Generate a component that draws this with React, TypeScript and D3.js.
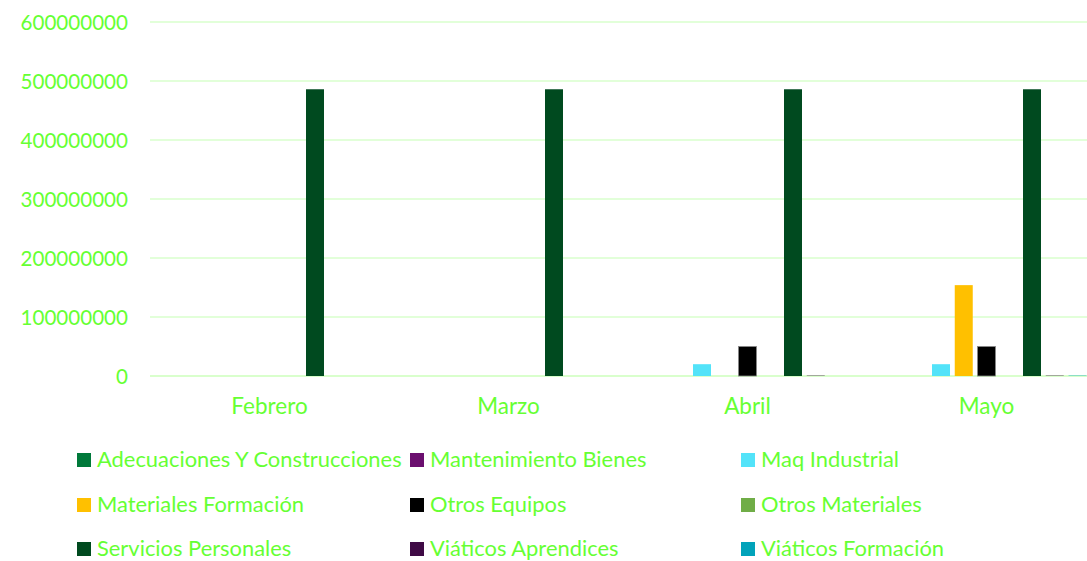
import React from "react";
import * as d3 from "d3";

const categories = ["Febrero", "Marzo", "Abril", "Mayo"];
const seriesNames = [
  "Adecuaciones Y Construcciones",
  "Mantenimiento Bienes",
  "Maq Industrial",
  "Materiales Formación",
  "Otros Equipos",
  "Otros Materiales",
  "Servicios Personales",
  "Viáticos Aprendices",
  "Viáticos Formación",
];
const seriesColors = [
  "#00793A",
  "#6B0F6F",
  "#53E3F9",
  "#FFC000",
  "#000000",
  "#70AD47",
  "#004A1F",
  "#3F0A45",
  "#02A3BA",
];
const adecuaciones = [0, 0, 0, 0];
const mantenimiento = [0, 0, 0, 0];
const maqIndustrial = [0, 0, 20000000, 20000000];
const materialesFormacion = [0, 0, 0, 154000000];
const otrosEquipos = [0, 0, 50000000, 50000000];
const otrosMateriales = [0, 0, 0, 0];
const serviciosPersonales = [486000000, 486000000, 486000000, 486000000];
const viaticosAprendices = [0, 0, 600000, 600000];
const viaticosFormacion = [0, 0, 0, 600000];
const seriesValues = [
  adecuaciones,
  mantenimiento,
  maqIndustrial,
  materialesFormacion,
  otrosEquipos,
  otrosMateriales,
  serviciosPersonales,
  viaticosAprendices,
  viaticosFormacion,
];
const yTicks = [0, 100000000, 200000000, 300000000, 400000000, 500000000, 600000000];

const TEXT = "#66FF33";
const GRID = "#D9FFCC";
const FONT = "Lato, 'Open Sans', sans-serif";

export default function App() {
  const W = 1087;
  const H = 561;
  const x0 = d3.scaleBand<string>().domain(categories).range([150, 1106]);
  const x1 = d3
    .scaleBand<string>()
    .domain(seriesNames)
    .range([19.5, 219.5])
    .paddingInner(0.209)
    .paddingOuter(0);
  const y = d3.scaleLinear().domain([0, 600000000]).range([376, 22]);

  const legendCols = [77, 410, 741];
  const legendBaselines = [467, 512, 556];

  return (
    <svg
      width={W}
      height={H}
      style={{ position: "absolute", left: 0, top: 0, background: "#fff" }}
    >
      {yTicks.map((t) => (
        <g key={t}>
          <line
            x1={150}
            x2={1106}
            y1={y(t)}
            y2={y(t)}
            stroke={GRID}
            strokeWidth={t === 0 ? 2 : 1.3}
          />
          <text
            x={128}
            y={y(t) + 7.5}
            textAnchor="end"
            fill={TEXT}
            fontFamily={FONT}
            fontSize={20.6}
          >
            {t}
          </text>
        </g>
      ))}
      {categories.map((c, ci) => (
        <g key={c} transform={`translate(${x0(c)},0)`}>
          {seriesNames.map((s, si) => {
            const v = seriesValues[si][ci];
            if (!v) return null;
            return (
              <rect
                key={s}
                x={x1(s)}
                y={y(v)}
                width={x1.bandwidth()}
                height={y(0) - y(v)}
                fill={seriesColors[si]}
                stroke={si === 4 ? "#888" : "none"}
                strokeWidth={si === 4 ? 0.8 : 0}
              />
            );
          })}
          <text
            x={x0.bandwidth() / 2}
            y={414}
            textAnchor="middle"
            fill={TEXT}
            fontFamily={FONT}
            fontSize={22.5}
          >
            {c}
          </text>
        </g>
      ))}
      {seriesNames.map((s, i) => {
        const col = i % 3;
        const row = Math.floor(i / 3);
        const lx = legendCols[col];
        const base = legendBaselines[row];
        return (
          <g key={s}>
            <rect x={lx} y={base - 14} width={14} height={14} fill={seriesColors[i]} />
            <text
              x={lx + 20}
              y={base}
              fill={TEXT}
              fontFamily={FONT}
              fontSize={21.9}
            >
              {s}
            </text>
          </g>
        );
      })}
    </svg>
  );
}
